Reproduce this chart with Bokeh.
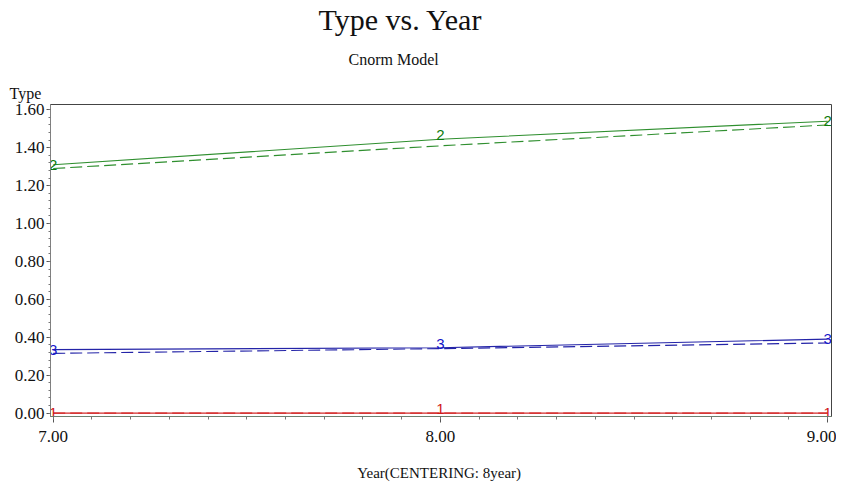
from bokeh.plotting import figure
from bokeh.models import Range1d, ColumnDataSource, FixedTicker, NumeralTickFormatter, Title
from bokeh.embed import file_html
from bokeh.resources import INLINE
from bokeh.core.properties import value

# ---- data ----
years = [7.0, 8.0, 9.0]
type1_obs = [0.0, 0.0, 0.0]
type1_fit = [0.0, 0.0, 0.0]
type2_obs = [1.31, 1.445, 1.54]
type2_fit = [1.29, 1.41, 1.52]
type3_obs = [0.335, 0.345, 0.39]
type3_fit = [0.315, 0.34, 0.37]
group_names = ["1", "2", "3"]
x_ticks = [7.0, 8.0, 9.0]
x_minor = [7.0 + 0.1 * i for i in range(21)]
y_ticks = [0.0, 0.2, 0.4, 0.6, 0.8, 1.0, 1.2, 1.4, 1.6]
y_minor = [0.04 * i for i in range(41)]

SERIF = "Liberation Serif"
colors = {"1": "#d42a2a", "2": "#2f8f2f", "3": "#2424a8"}
label_colors = {"1": "#d01818", "2": "#0a7a0a", "3": "#1414c8"}

p = figure(width=836, height=483, output_backend="svg", toolbar_location=None,
           x_range=Range1d(6.993, 9.01), y_range=Range1d(-0.018, 1.628),
           min_border_left=50, min_border_right=5, min_border_top=102,
           min_border_bottom=67)
p.grid.visible = False
p.outline_line_color = "#444444"
p.outline_line_width = 1
p.background_fill_color = "white"
p.border_fill_color = "white"

series = [("1", type1_obs, type1_fit), ("2", type2_obs, type2_fit), ("3", type3_obs, type3_fit)]
for name, obs, fit in series:
    c = colors[name]
    p.line(years, fit, line_color=c, line_width=1.1, line_dash="12 5")
    p.line(years, obs, line_color=c, line_width=1.1)
    end_src = ColumnDataSource(dict(x=[years[0], years[-1]], y=[obs[0], obs[-1]],
                                    t=[name, name]))
    mid_src = ColumnDataSource(dict(x=[years[1]], y=[obs[1]], t=[name]))
    p.text(x="x", y="y", text="t", source=end_src, text_color=label_colors[name],
           text_font=value("Liberation Sans"), text_font_size="15px",
           text_align="center", text_baseline="middle")
    p.text(x="x", y="y", text="t", source=mid_src, text_color=label_colors[name],
           text_font=value("Liberation Sans"), text_font_size="15px",
           text_align="center", text_baseline="bottom", y_offset=1)

# axes
xa = p.xaxis[0]
xa.ticker = FixedTicker(ticks=x_ticks, minor_ticks=x_minor)
xa.formatter = NumeralTickFormatter(format="0.00")
xa.axis_line_color = "#6f7f6f"
xa.major_tick_line_color = "#555555"
xa.minor_tick_line_color = "#777777"
xa.major_tick_out = 6
xa.major_tick_in = 0
xa.minor_tick_out = 3
xa.minor_tick_in = 0
xa.major_label_text_font = SERIF
xa.major_label_text_font_size = "17px"
xa.major_label_text_color = "#111111"
xa.major_label_standoff = 8
xa.axis_label = "Year(CENTERING:  8year)"
xa.axis_label_text_font = SERIF
xa.axis_label_text_font_size = "15px"
xa.axis_label_text_font_style = "normal"
xa.axis_label_text_color = "#111111"
xa.axis_label_standoff = 20

ya = p.yaxis[0]
ya.ticker = FixedTicker(ticks=y_ticks, minor_ticks=y_minor)
ya.formatter = NumeralTickFormatter(format="0.00")
ya.axis_line_color = "#808080"
ya.major_tick_line_color = "#555555"
ya.minor_tick_line_color = "#777777"
ya.major_tick_out = 4
ya.major_tick_in = 0
ya.minor_tick_out = 2
ya.minor_tick_in = 0
ya.major_label_text_font = SERIF
ya.major_label_text_font_size = "17px"
ya.major_label_text_color = "#111111"
ya.major_label_standoff = 2

# titles: added closest-to-frame first
p.add_layout(Title(text="Type", align="left", offset=-41, text_font=SERIF,
                   text_font_size="16px", text_font_style="normal",
                   text_color="#111111", standoff=5), "above")
p.add_layout(Title(text="Cnorm Model", align="left", offset=298, text_font=SERIF,
                   text_font_size="16px", text_font_style="normal",
                   text_color="#111111", standoff=26), "above")
p.add_layout(Title(text="Type vs. Year", align="left", offset=268, text_font=SERIF,
                   text_font_size="30px", text_font_style="normal",
                   text_color="#111111", standoff=0), "above")

open("out.html", "w").write(file_html(p, INLINE))
